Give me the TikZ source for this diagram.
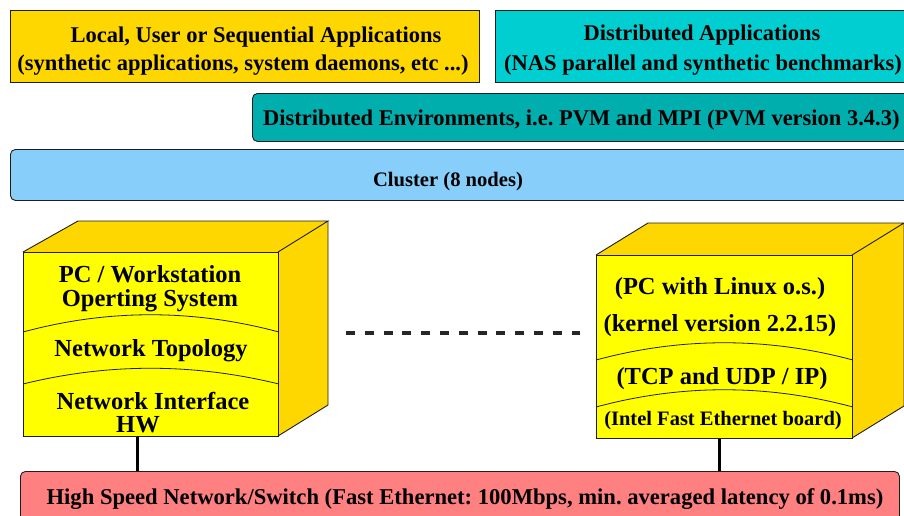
\documentclass[tikz,border=0pt]{standalone}
\usepackage{fontspec}
\setmainfont{Liberation Serif}[BoldFont={Liberation Serif Bold}]
\frenchspacing
\definecolor{appgold}{RGB}{255,215,0}
\definecolor{appcyan}{RGB}{0,206,209}
\definecolor{envteal}{RGB}{0,174,174}
\definecolor{clusterblue}{RGB}{135,206,250}
\definecolor{netred}{RGB}{255,128,128}
\definecolor{faceyellow}{RGB}{255,255,0}
\definecolor{edgegray}{RGB}{30,30,30}
\tikzset{
  layerbox/.style={draw=edgegray, line width=0.9pt, anchor=north west, inner sep=0pt},
  rlayer/.style={layerbox, rounded corners=5pt},
  lbl/.style={font=\bfseries\fontsize{#1}{#1}\selectfont, inner sep=0pt, anchor=center, yshift=-2.5pt},
  lbl/.default=22,
  face/.style={draw=edgegray, line width=0.9pt, line join=miter},
  sep/.style={draw=edgegray, line width=0.8pt},
  wire/.style={draw=black, line width=3pt},
  dots/.style={draw=black!85, line width=4pt, dash pattern=on 9pt off 9.8pt},
}
\begin{document}
\begin{tikzpicture}[x=1pt, y=-1pt]
\useasboundingbox (0,0) rectangle (904,515);
\clip (0,0) rectangle (904,515);

% application layer
\node[layerbox, fill=appgold, minimum width=469pt, minimum height=72pt] (local) at (10,10) {};
\node[lbl=22.5] (localA) at (256,35) {Local, User or Sequential Applications};
\node[lbl=22.5] (localB) at (243,63) {(synthetic applications, system daemons, etc ...)};

\node[layerbox, fill=appcyan, minimum width=430pt, minimum height=72pt] (dist) at (495,10) {};
\node[lbl=22.5] (distA) at (702,33) {Distributed Applications};
\node[lbl=22.5] (distB) at (703,63) {(NAS parallel and synthetic benchmarks)};

% environment and cluster layers
\node[rlayer, fill=envteal, minimum width=680pt, minimum height=48pt] (env) at (252,93) {};
\node[lbl=22.5, anchor=west] (envT) at (263,118) {Distributed Environments, i.e. PVM and MPI (PVM version 3.4.3)};

\node[rlayer, fill=clusterblue, minimum width=930pt, minimum height=51pt] (cluster) at (10,149) {};
\node[lbl=20.6] (clusterT) at (448,179) {Cluster (8 nodes)};

% left node (cube)
\fill[appgold] (23,252) -- (78,221) -- (328,221) -- (278,252) -- cycle;
\fill[appgold] (278,252) -- (328,221) -- (328,405) -- (278,436) -- cycle;
\draw[face] (23,252) -- (78,221) -- (328,221) -- (278,252);
\draw[face] (328,221) -- (328,405) -- (278,436);
\node[layerbox, fill=faceyellow, minimum width=255pt, minimum height=184pt] (lfront) at (23,252) {};
\draw[sep] (lfront.west |- 0,332) .. controls (108,309) and (193,309) .. (lfront.east |- 0,332);
\draw[sep] (lfront.west |- 0,384) .. controls (108,363) and (193,363) .. (lfront.east |- 0,384);
\node[lbl=24.5] (lA) at (150,272) {PC / Workstation};
\node[lbl=24.5] (lB) at (150,298) {Operting System};
\node[lbl=24.5] (lC) at (151,348) {Network Topology};
\node[lbl=24.5] (lD) at (153,398) {Network Interface};
\node[lbl=24.5] (lE) at (138,422) {HW};

% right node (cube)
\fill[appgold] (596,255) -- (648,223) -- (904,223) -- (852,255) -- cycle;
\fill[appgold] (852,255) -- (904,223) -- (904,406) -- (852,438) -- cycle;
\draw[face] (596,255) -- (648,223) -- (904,223) -- (852,255);
\draw[face] (904,223) -- (904,406) -- (852,438);
\node[layerbox, fill=faceyellow, minimum width=256pt, minimum height=183pt] (rfront) at (596,255) {};
\draw[sep] (rfront.west |- 0,360) .. controls (681,337) and (767,337) .. (rfront.east |- 0,360);
\draw[sep] (rfront.west |- 0,407) .. controls (681,384) and (767,384) .. (rfront.east |- 0,407);
\node[lbl=24.5] (rA) at (720,286) {(PC with Linux o.s.)};
\node[lbl=24.5] (rB) at (720,323) {(kernel version 2.2.15)};
\node[lbl=24.5] (rC) at (722,376) {(TCP and UDP / IP)};
\node[lbl=20.5] (rD) at (723,418) {(Intel Fast Ethernet board)};

% the nodes between the two drawn ones
\coordinate (dashL) at (346,333);
\coordinate (dashR) at (580,333);
\draw[dots] (dashL) -- (dashR);

% network
\node[rlayer, fill=netred, minimum width=879pt, minimum height=60pt] (net) at (20,471) {};
\node[lbl=22.6] (netT) at (465,497) {High Speed Network/Switch (Fast Ethernet: 100Mbps, min. averaged latency of 0.1ms)};

\coordinate (lw) at (137,0);
\coordinate (rw) at (719,0);
\draw[wire] (lw |- lfront.south) -- (lw |- net.north);
\draw[wire] (rw |- rfront.south) -- (rw |- net.north);
\end{tikzpicture}
\end{document}
